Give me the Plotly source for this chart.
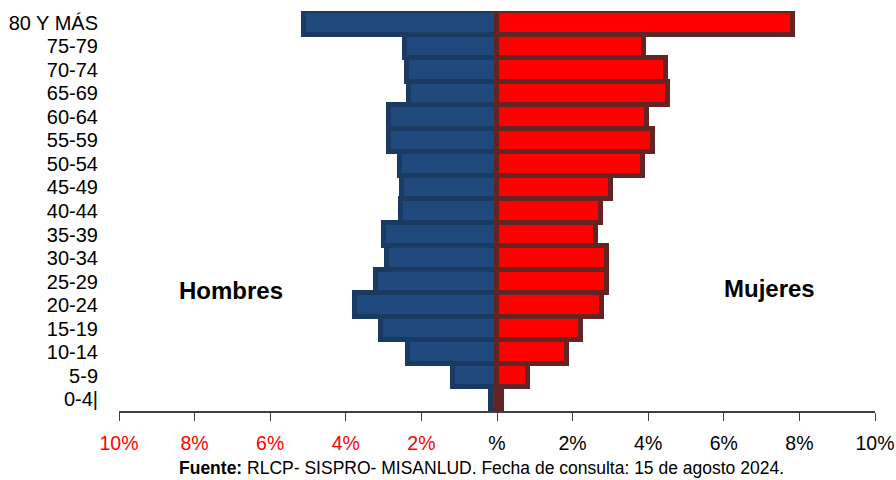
import plotly.graph_objects as go

# Age groups, bottom to top
grupos = ["0-4|", "5-9", "10-14", "15-19", "20-24", "25-29", "30-34", "35-39",
          "40-44", "45-49", "50-54", "55-59", "60-64", "65-69", "70-74", "75-79",
          "80 Y MÁS"]

# Share of population (%) per age group
hombres = [0.15, 1.16, 2.35, 3.06, 3.76, 3.21, 2.91, 2.99,
           2.53, 2.51, 2.57, 2.86, 2.87, 2.34, 2.37, 2.43, 5.10]
mujeres = [0.13, 0.82, 1.84, 2.22, 2.78, 2.90, 2.90, 2.61,
           2.74, 3.02, 3.86, 4.13, 3.97, 4.52, 4.47, 3.89, 7.83]

tick_vals = [-10, -8, -6, -4, -2, 0, 2, 4, 6, 8, 10]
tick_text = ['<span style="color:#ff0000">10%</span>',
             '<span style="color:#ff0000">8%</span>',
             '<span style="color:#ff0000">6%</span>',
             '<span style="color:#ff0000">4%</span>',
             '<span style="color:#ff0000">2%</span>',
             '%', '2%', '4%', '6%', '8%', '10%']

FONT = "Liberation Sans Narrow, Arial Narrow, Liberation Sans, Arial, sans-serif"

fig = go.Figure()
fig.add_trace(go.Bar(
    y=grupos, x=[-v for v in hombres], orientation="h", name="Hombres",
    marker=dict(color="#1f497d", line=dict(color="#1b3a62", width=5)),
    showlegend=False, hoverinfo="skip",
))
fig.add_trace(go.Bar(
    y=grupos, x=mujeres, orientation="h", name="Mujeres",
    marker=dict(color="#ff0000", line=dict(color="#632523", width=5)),
    showlegend=False, hoverinfo="skip",
))

fig.update_layout(
    width=896, height=480,
    margin=dict(l=119, r=21, t=11, b=69, autoexpand=False),
    paper_bgcolor="white", plot_bgcolor="white",
    barmode="overlay", bargap=0,
    font=dict(family=FONT, size=20, color="black"),
    xaxis=dict(
        range=[-10, 10], tickvals=tick_vals, ticktext=tick_text,
        showgrid=False, zeroline=False, showline=True, linecolor="#404040",
        linewidth=1.5, ticks="outside", ticklen=8, tickcolor="#404040",
        tickfont=dict(family=FONT, size=19.5), ticklabeloverflow="allow",
        ticklabelstandoff=6, automargin=False,
    ),
    yaxis=dict(
        categoryorder="array", categoryarray=grupos, range=[-0.5, 16.5],
        tickmode="linear", tick0=0, dtick=1, automargin=False,
        showgrid=False, zeroline=False, showline=False, ticks="",
        tickfont=dict(family=FONT, size=20), ticklabelstandoff=20,
    ),
    # central axis: boundary ticks to the left, centre ticks to the right
    yaxis2=dict(
        overlaying="y", anchor="free", position=0.5, side="left",
        range=[-0.5, 16.5], tick0=-0.5, dtick=1, showticklabels=False,
        showgrid=False, zeroline=False, showline=True, linecolor="#111111",
        linewidth=1.8, ticks="outside", ticklen=7, tickcolor="#111111",
        tickwidth=1.5, automargin=False, layer="above traces",
    ),
    yaxis3=dict(
        overlaying="y", anchor="free", position=0.5, side="right",
        range=[-0.5, 16.5], tick0=0, dtick=1, showticklabels=False,
        showgrid=False, zeroline=False, showline=False,
        ticks="outside", ticklen=5, tickcolor="#111111", tickwidth=1.5,
        automargin=False, layer="above traces",
    ),
    annotations=[
        dict(text="<b>Hombres</b>", x=-7.04, xref="x", y=0.3025, yref="paper",
             xanchor="center", yanchor="middle", showarrow=False,
             font=dict(family=FONT, size=24, color="black")),
        dict(text="<b>Mujeres</b>", x=7.2, xref="x", y=0.3075, yref="paper",
             xanchor="center", yanchor="middle", showarrow=False,
             font=dict(family=FONT, size=24, color="black")),
        dict(text="<b>Fuente:</b> RLCP- SISPRO- MISANLUD. Fecha de consulta: 15 de agosto 2024.",
             x=0.48, xref="paper", y=-0.1425, yref="paper",
             xanchor="center", yanchor="middle", showarrow=False,
             font=dict(family=FONT, size=17.5, color="black")),
    ],
)

fig.write_html("out.html")
